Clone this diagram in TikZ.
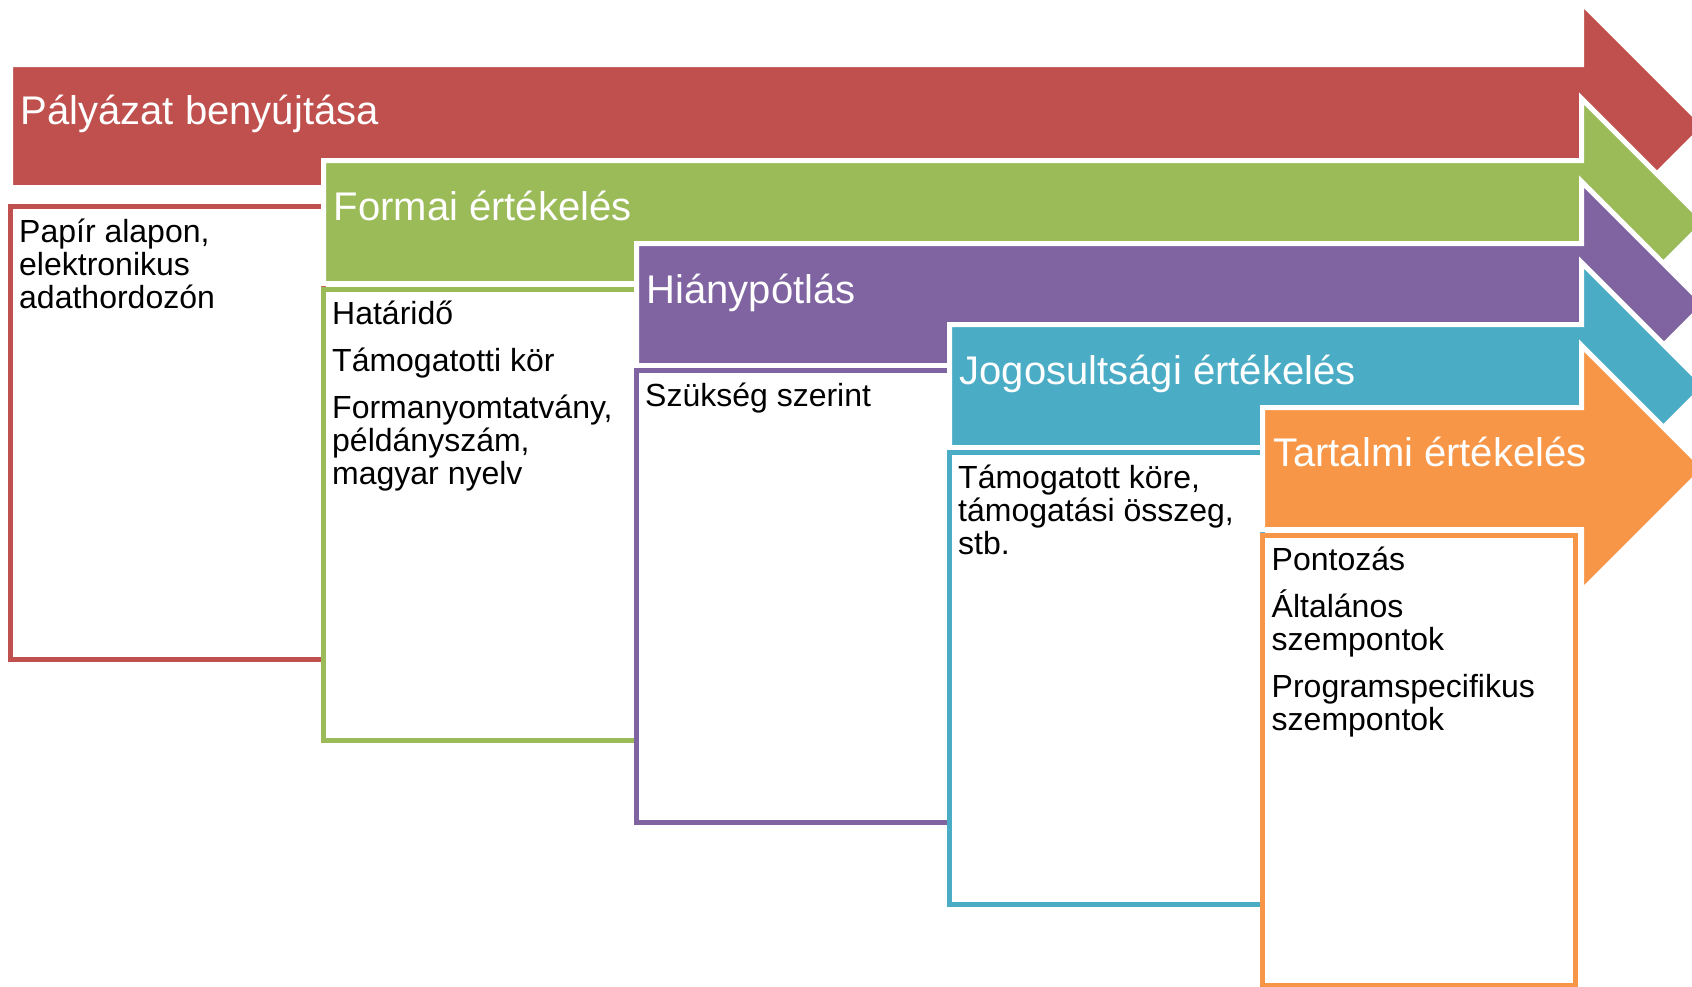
\documentclass[tikz,border=0pt]{standalone}
\usepackage{fontspec}
\setmainfont{Liberation Sans}
\definecolor{cred}{HTML}{C0504D}
\definecolor{cgreen}{HTML}{9BBB59}
\definecolor{cpurple}{HTML}{8064A2}
\definecolor{cteal}{HTML}{4BACC6}
\definecolor{corange}{HTML}{F79646}
\newcommand\boxlines[1]{\parbox[t]{300pt}{\raggedright\setlength\parskip{14pt}#1}}
\begin{document}
\begin{tikzpicture}[x=1pt,y=-1pt,
  arrowshape/.style={fill=#1, draw=white, line width=5pt},
  boxshape/.style={fill=white, draw=#1, line width=5pt},
  titletext/.style={anchor=base west, inner sep=0pt, text=white, font=\fontsize{40}{48}\selectfont},
  bodytext/.style={anchor=base west, inner sep=0pt, text=black, font=\fontsize{32}{33}\selectfont}]
\useasboundingbox (0,0) rectangle (1692,986);
\clip (0,0) rectangle (1692,986);
% red
\path[arrowshape=cred] (10.5,64.5) -- (1581.5,64.5) -- (1581.5,2.5) -- (1705,126) -- (1581.5,249.5) -- (1581.5,187.5) -- (10.5,187.5) -- cycle;
\node[titletext] (t1) at (20.5,124) {Pályázat benyújtása};
\path[boxshape=cred] (10.5,206.5) rectangle (323.5,659.5);
\node[bodytext] (b1) at (19,242) {\boxlines{Papír alapon,\\ elektronikus\\ adathordozón}};
% green
\path[arrowshape=cgreen] (323.5,160.5) -- (1581.5,160.5) -- (1581.5,98.5) -- (1705,222) -- (1581.5,345.5) -- (1581.5,283.5) -- (323.5,283.5) -- cycle;
\node[titletext] (t2) at (333.5,220) {Formai értékelés};
\path[boxshape=cgreen] (323.5,289) rectangle (636.5,740);
\node[bodytext] (b2) at (332,324.5) {\boxlines{Határidő\par Támogatotti kör\par Formanyomtatvány,\\ példányszám,\\ magyar nyelv}};
% purple
\path[arrowshape=cpurple] (636.5,243.5) -- (1581.5,243.5) -- (1581.5,181.5) -- (1704.5,304.5) -- (1581.5,427.5) -- (1581.5,365.5) -- (636.5,365.5) -- cycle;
\node[titletext] (t3) at (646.5,303) {Hiánypótlás};
\path[boxshape=cpurple] (636.5,370.5) rectangle (949.5,822.5);
\node[bodytext] (b3) at (645,406) {\boxlines{Szükség szerint}};
% teal
\path[arrowshape=cteal] (949.5,324.5) -- (1581.5,324.5) -- (1581.5,262.5) -- (1705,386) -- (1581.5,509.5) -- (1581.5,447.5) -- (949.5,447.5) -- cycle;
\node[titletext] (t4) at (959.5,384) {Jogosultsági értékelés};
\path[boxshape=cteal] (949.5,452.5) rectangle (1262.5,904.5);
\node[bodytext] (b4) at (958,488) {\boxlines{Támogatott köre,\\ támogatási összeg,\\ stb.}};
% orange
\path[arrowshape=corange] (1262.5,407.5) -- (1581.5,407.5) -- (1581.5,345.5) -- (1704.5,468.5) -- (1581.5,591.5) -- (1581.5,529.5) -- (1262.5,529.5) -- cycle;
\node[titletext] (t5) at (1273,466.5) {Tartalmi értékelés};
\path[boxshape=corange] (1262.5,535.5) rectangle (1575,985.5);
\node[bodytext] (b5) at (1271.5,570) {\boxlines{Pontozás\par Általános\\ szempontok\par Programspecifikus\\ szempontok}};
\end{tikzpicture}
\end{document}
